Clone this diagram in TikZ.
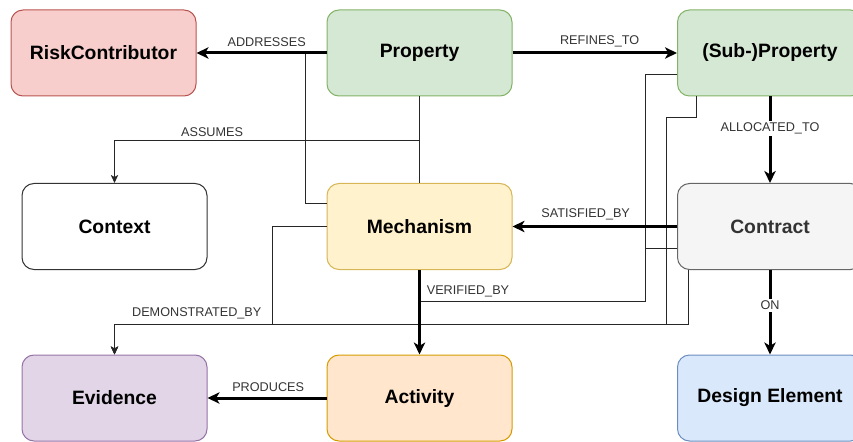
\documentclass[tikz,border=0pt]{standalone}
\usepackage{fontspec}
\setmainfont{Liberation Sans}
\usepackage{tikz}
\usetikzlibrary{arrows.meta,positioning}
\definecolor{riskfill}{HTML}{F8CECC}
\definecolor{riskline}{HTML}{B85450}
\definecolor{propfill}{HTML}{D5E8D4}
\definecolor{propline}{HTML}{82B366}
\definecolor{mechfill}{HTML}{FFF2CC}
\definecolor{mechline}{HTML}{D6B656}
\definecolor{actfill}{HTML}{FFE6CC}
\definecolor{actline}{HTML}{D79B00}
\definecolor{evidfill}{HTML}{E1D5E7}
\definecolor{evidline}{HTML}{9673A6}
\definecolor{desfill}{HTML}{DAE8FC}
\definecolor{desline}{HTML}{6C8EBF}
\definecolor{contfill}{HTML}{F5F5F5}
\definecolor{contline}{HTML}{666666}
\tikzset{
  entity/.style   = {shape=rectangle, rounded corners=9pt,
                     draw, line width=0.75pt, align=center,
                     minimum width=138.75pt, minimum height=64.5pt,
                     font=\fontsize{14.5}{17}\selectfont\bfseries},
  riskbox/.style  = {entity, fill=riskfill, draw=riskline},
  propbox/.style  = {entity, fill=propfill, draw=propline},
  mechbox/.style  = {entity, fill=mechfill, draw=mechline},
  actbox/.style   = {entity, fill=actfill, draw=actline},
  evidbox/.style  = {entity, fill=evidfill, draw=evidline},
  desbox/.style   = {entity, fill=desfill, draw=desline},
  contbox/.style  = {entity, fill=contfill, draw=contline, text=black!80},
  ctxbox/.style   = {entity, fill=white, draw=black!80}
}

\begin{document}
\begin{tikzpicture}
  [
    x           = 0.75pt,
    y           = -0.75pt,
    rel/.style  = {draw, line width=2.25pt,
                   -{Stealth[length=9pt, width=8.5pt, inset=2.5pt]}},
    link/.style = {draw, line width=0.75pt, black!85},
    tip/.style  = {-{Stealth[length=6pt, width=5.5pt, inset=1.5pt]}},
    lbl/.style  = {font=\fontsize{9.5}{11}\selectfont, text=black!80,
                   inner sep=1.5pt}
  ]
  \useasboundingbox (0,0) rectangle (853,442);

  \node [riskbox] (risk)      at (103.5,53)  {RiskContributor};
  \node [propbox] (property)  at (419.5,53)  {Property};
  \node [propbox] (sub)       at (770,53)    {(Sub-)Property};
  \node [ctxbox]  (context)   at (114.5,226.5) {Context};
  \node [mechbox] (mechanism) at (419.5,226.5) {Mechanism};
  \node [contbox] (contract)  at (770,226.5) {Contract};
  \node [evidbox] (evidence)  at (114.5,398) {Evidence};
  \node [actbox]  (activity)  at (419.5,398) {Activity};
  \node [desbox]  (design)    at (770,398)   {Design Element};

  \coordinate (addjoin) at (305.7,53);
  \coordinate (verjoin) at (419.5,301.7);

  % thin links
  \path [link]
    (mechanism) -- (property)
    (mechanism.west |- 0,204) -- (305.7,204) -- (addjoin)
    (contract.west |- 0,248) -- (645,248)
    (sub.west |- 0,75) -| (645,301.7)
        -- node [lbl, above=1.5pt, pos=0.785] {VERIFIED\_BY} (verjoin);
  \draw [link, tip] (property) -- (419.5,140.7)
        -| node [lbl, above=1.5pt, pos=0.34] {ASSUMES} (context);
  \draw [link, tip] (mechanism.west) -| (272.7,324)
        -| node [lbl, above=1.5pt, pos=0.24] {DEMONSTRATED\_BY} (evidence);
  \draw [link, tip] (contract.south -| 688.7,0) -- (688.7,324) -| (evidence);
  \draw [link, tip] (sub.south -| 696.7,0) |- (666.3,118) -- (666.3,324)
        -| (evidence);

  % main relations
  \path [rel]
    (property) edge node [lbl, above=2pt, pos=0.46] {ADDRESSES} (risk)
    (property) edge node [lbl, above=2pt, pos=0.53] {REFINES\_TO} (sub)
    (sub) edge node [lbl, fill=white, pos=0.37] {ALLOCATED\_TO} (contract)
    (contract) edge node [lbl, above=2pt, pos=0.555] {SATISFIED\_BY} (mechanism)
    (mechanism) edge (activity)
    (activity) edge node [lbl, above=2pt, pos=0.49] {PRODUCES} (evidence)
    (contract) edge node [lbl, fill=white, pos=0.42] {ON} (design);

\end{tikzpicture}
\end{document}
